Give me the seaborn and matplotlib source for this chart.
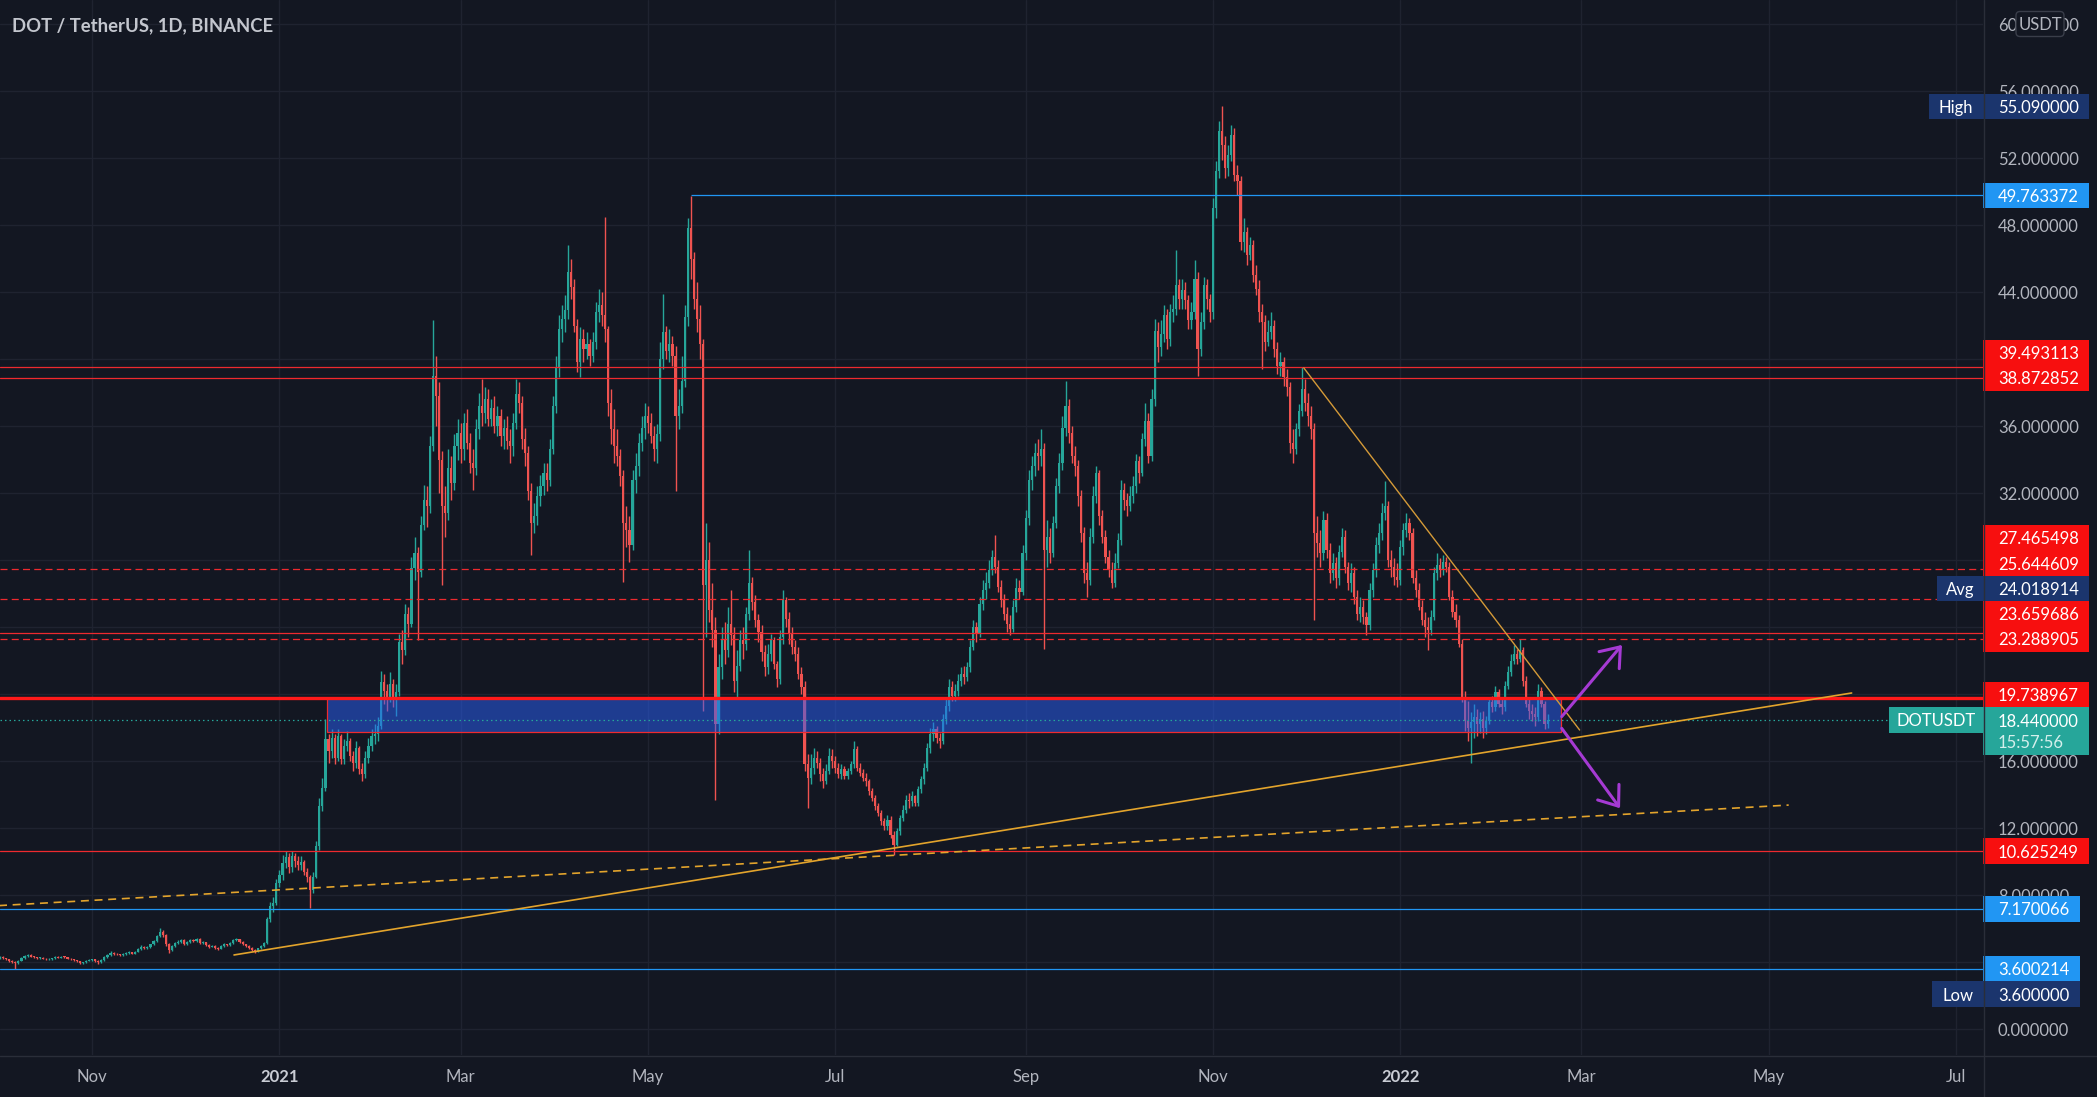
import numpy as np
import pandas as pd
import matplotlib
matplotlib.use("Agg")
import matplotlib.pyplot as plt
import matplotlib.dates as mdates
from matplotlib.patches import Rectangle, FancyArrowPatch, FancyBboxPatch
import seaborn as sns

# ---------------------------------------------------------------- data
title = "DOT / TetherUS, 1D, BINANCE"
first_date = "2020-10-02"
first_open = 4.25

close = [
    # Oct 2020
    4.30,4.22,4.15,4.08,4.00,3.92,4.08,4.25,4.35,4.40, 4.32,4.28,4.22,4.25,4.20,4.15,4.18,4.22,4.30,4.26,
    4.32,4.28,4.20,4.15,4.10,4.05,3.95,4.00,4.08,4.12,
    # Nov 2020
    4.15,4.05,3.98,4.12,4.30,4.42,4.55,4.48,4.45,4.40, 4.46,4.52,4.58,4.50,4.62,4.78,4.92,4.85,4.90,5.05,
    5.25,5.55,5.78,5.62,5.05,4.72,4.98,5.12,5.22,5.30,
    # Dec 2020
    5.08,5.22,5.32,5.26,5.38,5.12,5.18,5.02,4.92,4.96, 4.86,4.80,4.94,5.06,5.00,5.12,5.30,5.36,5.22,5.06,
    4.96,4.84,4.74,4.68,4.82,4.96,5.15,6.55,7.35,7.50, 8.70,
    # Jan 2021
    9.20,9.90,10.25,9.65,10.30,10.05,9.80,9.95,9.40,9.05, 8.30,9.10,10.90,13.30,14.40,17.30,16.60,17.40,16.20,17.50,
    16.10,16.90,17.20,16.30,15.90,16.80,15.50,15.20,16.20,16.90, 17.50,
    # Feb 2021
    17.60,18.10,20.70,20.20,19.80,20.60,19.70,20.10,23.10,22.60, 24.80,24.20,27.50,28.40,27.30,30.10,31.60,31.20,34.80,39.00,
    37.80,34.00,31.20,30.80,33.50,32.60,34.80,35.60,
    # Mar 2021
    34.60,36.20,35.00,33.80,33.50,35.80,37.20,36.80,37.60,36.40, 37.10,36.00,36.60,35.40,35.90,35.10,34.80,36.20,37.90,37.40,
    35.20,34.40,32.10,30.20,30.60,31.80,32.40,33.20,32.80,34.60, 37.20,
    # Apr 2021
    39.50,41.80,42.40,42.90,45.20,44.30,42.00,39.80,41.20,40.60, 40.90,40.20,41.00,42.80,43.20,42.60,41.80,37.40,35.80,34.80,
    34.20,33.00,30.20,29.80,28.90,32.80,33.60,35.00,35.90,36.60,
    # May 2021
    36.20,35.40,34.60,35.50,40.00,41.60,40.50,40.90,40.20,36.60, 37.20,38.70,42.50,47.80,46.00,43.60,42.40,40.90,26.50,28.00,
    25.00,23.80,18.20,21.60,23.20,22.60,24.20,23.50,20.80,21.70, 23.20,
    # Jun 2021
    23.00,24.80,26.60,25.50,24.40,23.70,22.50,21.60,22.40,23.20, 21.80,20.90,23.40,25.60,24.50,23.60,22.80,22.40,21.20,20.40,
    15.80,15.00,15.60,16.20,15.90,15.20,14.80,15.40,16.30,16.00,
    # Jul 2021
    15.60,15.20,15.50,15.10,15.40,15.80,16.70,15.60,15.30,15.00, 14.80,14.20,13.80,13.30,12.90,12.40,12.10,12.50,11.60,11.00,
    11.80,12.60,13.10,13.70,13.60,13.90,13.50,14.30,14.90,15.60, 16.80,
    # Aug 2021
    17.60,17.90,17.40,17.20,18.50,19.30,20.40,19.90,20.20,20.80, 21.20,21.00,21.60,22.80,24.00,23.60,25.40,26.20,26.60,27.40,
    28.20,27.60,26.40,25.60,24.80,24.20,23.90,25.20,26.30,26.10, 28.40,
    # Sep 2021
    30.50,32.80,33.60,34.40,34.20,34.60,28.60,29.40,28.40,30.20, 32.40,33.80,35.90,37.20,35.60,34.20,33.60,31.80,29.60,27.20,
    26.80,29.40,31.80,33.20,30.60,29.40,28.20,27.40,26.60,27.80,
    # Oct 2021
    29.20,32.20,31.60,31.20,31.80,32.40,33.90,33.20,35.20,36.30, 34.20,37.60,41.70,40.70,41.50,42.60,41.20,42.80,43.00,44.40,
    43.60,44.10,43.50,42.30,42.80,44.80,40.60,42.20,44.40,43.60, 42.80,
    # Nov 2021
    49.00,51.20,53.60,52.80,51.40,52.20,53.40,51.00,50.60,47.00, 47.60,46.20,46.80,45.00,44.20,42.80,42.20,41.00,41.60,42.00,
    40.60,39.60,39.80,38.90,38.30,35.00,34.60,35.80,36.90,38.20,
    # Dec 2021
    37.40,36.60,35.80,29.60,29.00,28.40,30.40,28.60,27.20,27.80, 26.90,28.50,29.40,27.60,26.60,27.20,25.80,24.80,25.20,24.60,
    24.10,26.20,27.40,28.90,29.60,30.80,31.20,28.00,27.60,27.00, 26.80,
    # Jan 2022
    28.80,29.80,30.20,29.60,26.90,26.20,25.20,24.40,24.00,23.80, 24.60,27.20,27.70,27.40,27.90,27.60,25.80,24.90,24.40,23.00,
    19.80,18.40,18.00,18.30,18.60,18.20,18.50,18.00,18.40,19.50, 19.20,
    # Feb 2022
    20.10,19.40,19.20,20.50,21.30,22.00,22.40,22.10,22.60,20.80, 19.40,19.00,18.80,18.60,20.20,19.40,18.20,18.44,
]

high = [
    4.38,4.34,4.26,4.19,4.12,4.04,4.12,4.30,4.42,4.48, 4.45,4.36,4.31,4.30,4.28,4.23,4.22,4.26,4.35,4.34,
    4.37,4.35,4.30,4.23,4.18,4.13,4.08,4.03,4.12,4.18,
    4.20,4.18,4.10,4.16,4.36,4.50,4.66,4.60,4.52,4.49, 4.52,4.58,4.66,4.62,4.68,4.84,5.00,4.96,4.96,5.10,
    5.32,5.62,6.02,5.90,5.70,5.12,5.04,5.20,5.30,5.38,
    5.36,5.28,5.40,5.38,5.44,5.42,5.24,5.22,5.08,5.02, 5.00,4.90,4.99,5.12,5.10,5.18,5.36,5.44,5.40,5.26,
    5.10,4.99,4.88,4.78,4.86,5.00,5.22,6.70,7.60,7.90, 8.95,
    9.50,10.40,10.60,10.50,10.60,10.50,10.30,10.30,10.10,9.60, 9.20,9.40,11.20,13.80,15.00,18.50,17.60,17.90,17.60,17.90,
    17.60,17.30,17.80,17.40,16.60,17.20,16.90,15.90,16.60,17.40, 17.90,
    18.20,18.60,21.40,21.20,20.60,21.30,20.90,20.60,23.60,23.80, 25.40,25.20,28.20,29.40,28.80,30.60,32.50,32.40,35.40,42.30,
    40.20,38.60,34.50,32.40,34.60,34.20,35.50,36.40,
    36.20,36.80,37.00,35.60,34.60,36.40,38.00,38.80,38.30,38.20, 37.60,37.80,37.20,37.00,36.40,36.60,35.80,36.80,38.80,38.60,
    37.80,35.90,34.80,32.60,31.40,32.40,33.10,33.80,33.80,35.20, 37.80,
    40.20,42.60,43.20,43.80,46.80,46.00,44.80,42.40,41.90,41.80, 41.60,41.20,41.60,43.40,44.20,44.00,48.50,42.00,38.20,37.00,
    35.80,34.60,33.40,31.20,30.60,33.40,34.40,35.60,36.60,37.40,
    37.20,36.80,36.00,36.10,41.00,43.90,42.00,41.80,41.40,40.80, 38.20,40.20,43.20,48.40,49.76,46.40,44.60,43.20,41.20,30.20,
    29.10,26.60,24.60,22.40,24.00,24.30,25.20,26.20,24.00,22.60, 23.80,
    24.00,25.20,28.60,27.00,25.90,24.80,24.10,22.90,23.00,23.60, 23.40,22.00,23.80,26.20,25.80,24.90,24.00,23.20,22.80,21.60,
    20.80,16.40,16.40,16.80,16.60,16.20,15.60,15.80,16.80,16.70,
    16.30,15.90,15.80,15.70,15.60,16.00,17.20,16.90,15.90,15.50, 15.30,14.90,14.40,14.00,13.50,13.10,12.60,12.80,12.70,11.80,
    12.00,12.80,13.40,14.00,14.10,14.20,14.00,14.50,15.10,15.90, 17.10,
    18.00,18.30,18.10,17.70,18.80,19.70,20.90,20.80,20.60,21.20, 21.60,21.70,21.90,23.20,24.40,24.30,25.80,26.80,27.30,28.00,
    28.60,29.50,28.00,26.80,26.00,25.20,24.70,25.60,26.90,26.80, 28.90,
    31.00,33.40,34.20,35.00,35.20,35.80,35.00,30.40,29.90,30.60, 32.90,34.40,36.60,38.70,37.60,36.00,34.80,34.00,32.20,30.00,
    27.90,29.90,32.40,33.60,33.40,31.00,29.80,28.60,27.90,28.40,
    29.60,32.80,32.60,32.00,32.40,33.00,34.30,34.20,35.60,37.40, 36.80,38.20,42.40,42.20,42.30,43.20,43.00,43.30,43.80,46.50,
    44.80,44.80,44.60,43.80,43.40,45.90,45.20,42.80,44.90,44.80, 43.90,
    49.60,51.80,54.20,55.09,53.30,52.80,54.00,53.80,51.60,50.90, 48.40,47.90,47.30,47.10,45.60,44.70,43.30,42.60,42.30,42.80,
    42.30,41.00,40.40,40.10,39.40,38.60,35.80,36.20,37.30,39.50,
    38.80,38.00,37.20,36.20,30.60,29.80,30.90,30.80,29.00,28.40, 28.20,28.90,29.90,29.80,27.90,27.80,27.60,26.20,25.80,25.60,
    24.90,26.60,27.80,29.40,30.20,31.40,32.70,31.50,28.60,28.10, 27.80,
    29.20,30.20,30.80,30.50,29.90,27.40,26.60,25.60,24.90,24.60, 25.00,27.60,28.40,28.10,28.30,28.20,27.90,26.20,25.40,24.70,
    23.30,20.20,19.60,18.90,19.40,19.10,18.90,19.00,18.70,19.80, 19.90,
    20.50,20.30,19.80,20.80,21.70,22.40,22.90,22.70,23.30,22.80, 21.10,19.80,19.40,19.20,20.60,20.40,19.60,18.80,
]

low = [
    4.20,4.18,4.11,4.03,3.95,3.60,3.88,4.04,4.20,4.30, 4.28,4.24,4.18,4.18,4.15,4.12,4.12,4.14,4.18,4.22,
    4.22,4.24,4.16,4.11,4.06,4.00,3.90,3.88,3.97,4.05,
    4.08,4.00,3.90,3.95,4.08,4.25,4.38,4.44,4.40,4.35, 4.36,4.42,4.48,4.45,4.46,4.58,4.74,4.80,4.80,4.86,
    5.00,5.20,5.48,5.50,4.95,4.55,4.66,4.92,5.06,5.15,
    5.00,5.02,5.16,5.20,5.20,5.06,5.08,4.96,4.86,4.88, 4.80,4.74,4.76,4.90,4.95,4.96,5.08,5.26,5.16,5.00,
    4.90,4.78,4.68,4.55,4.62,4.78,4.92,5.10,6.40,7.00, 7.40,
    8.50,8.90,9.60,9.30,9.40,9.70,9.50,9.50,9.20,8.80, 7.20,8.10,9.00,10.70,13.00,14.20,15.90,16.20,15.80,16.00,
    15.80,15.80,16.60,16.00,15.40,15.60,15.20,14.80,15.00,15.90, 16.60,
    17.00,17.20,17.90,19.40,19.00,19.50,19.20,18.70,19.90,21.80, 22.30,23.40,24.00,26.80,23.20,27.00,29.80,30.00,30.80,34.50,
    36.00,32.00,26.50,29.40,30.40,31.60,32.20,34.00,
    33.80,34.00,34.60,33.20,32.20,33.10,35.20,36.00,36.20,36.00, 36.00,35.60,35.40,34.80,34.60,34.60,33.80,34.20,35.80,36.80,
    34.60,33.60,31.60,28.30,29.60,30.10,31.20,31.90,32.10,32.40, 34.30,
    36.80,38.90,41.00,41.60,42.40,43.60,41.60,39.20,38.90,39.80, 40.00,39.60,39.80,40.60,42.20,42.00,41.00,36.60,34.90,33.80,
    33.60,32.40,26.70,28.80,27.90,28.60,32.00,33.00,34.50,35.20,
    35.60,35.00,33.90,33.80,35.10,39.40,40.00,39.80,39.60,32.10, 35.80,36.80,38.30,42.00,44.80,43.00,41.60,40.00,19.00,23.40,
    24.30,22.80,13.70,17.60,20.90,21.80,22.20,22.90,20.10,19.80, 21.40,
    22.10,22.60,24.40,25.00,24.00,23.10,22.00,21.10,21.20,22.00, 21.50,20.40,20.60,23.00,24.00,23.00,22.40,22.00,20.90,20.00,
    15.40,13.20,14.60,15.20,15.60,14.80,14.40,14.60,15.20,15.60,
    15.30,15.00,14.90,14.90,14.90,15.20,15.60,15.40,15.10,14.80, 14.50,14.00,13.60,13.10,12.70,12.20,11.90,11.90,11.40,10.40,
    10.90,11.60,12.40,12.90,13.20,13.30,13.30,13.30,14.10,14.60, 15.40,
    16.50,17.20,17.10,16.80,17.00,18.20,19.00,19.60,19.60,19.90, 20.50,20.60,20.80,21.30,22.60,23.10,23.40,25.00,25.70,26.30,
    27.10,27.20,26.10,25.20,24.40,23.70,23.50,23.70,24.90,25.70, 25.90,
    28.00,30.10,32.20,33.00,33.40,33.60,22.70,27.60,27.80,28.20, 29.90,32.00,33.40,35.40,35.00,33.80,33.00,31.20,29.10,26.60,
    25.80,26.50,29.00,31.40,30.10,29.00,27.80,27.00,26.30,26.40,
    27.50,28.90,31.00,30.60,30.90,31.40,32.00,32.60,33.00,34.80, 33.80,33.90,37.20,39.80,40.20,41.00,40.60,40.80,42.20,42.60,
    43.00,43.00,43.00,41.80,41.80,42.40,39.00,40.20,41.80,43.00, 42.20,
    42.40,48.40,50.80,51.90,50.80,50.90,51.80,50.60,49.80,46.50, 46.40,45.60,45.90,44.60,43.80,42.20,39.40,40.50,40.80,41.20,
    40.10,39.10,39.00,38.40,37.80,34.40,33.80,34.30,35.40,36.60,
    36.90,36.00,35.20,24.40,28.20,27.60,28.00,28.10,26.60,26.80, 26.30,26.50,28.20,27.20,26.20,26.10,25.40,24.40,24.30,24.20,
    23.50,23.80,25.80,27.00,28.40,29.20,30.40,27.60,27.00,26.50, 26.40,
    26.50,28.30,29.40,29.20,26.60,25.80,25.00,24.10,23.40,22.60, 23.50,24.40,26.80,27.00,27.10,27.30,25.60,24.60,24.00,22.80,
    19.50,17.80,17.20,15.90,17.40,17.50,17.70,17.40,17.60,18.20, 18.90,
    19.00,19.20,18.80,19.00,20.30,21.10,21.80,21.80,21.90,20.50, 19.20,18.50,18.40,18.10,18.40,19.20,17.90,18.00,
]

# horizontal levels drawn on the chart
red_solid_levels = [39.493113, 38.872852, 23.659686, 10.625249]
red_dashed_levels = [27.465498, 25.644609, 23.288905]
key_level = 19.738967
blue_levels = [7.170066, 3.600214]
peak_level = 49.763372
peak_level_start = "2021-05-15 00:00"
high_value = 55.09
low_value = 3.60
avg_value = 24.018914
last_price = 18.44
countdown = "15:57:56"
symbol = "DOTUSDT"
currency = "USDT"

zone_dates = ["2021-01-16 10:00", "2022-02-22 12:00"]
zone_prices = [17.71, 19.738967]

rising_line_dates = ["2020-12-17 05:00", "2022-05-28 00:00"]
rising_line_prices = [4.42, 20.06]
dashed_line_dates = ["2020-09-30 00:00", "2022-05-07 12:00"]
dashed_line_prices = [7.35, 13.37]
falling_line_dates = ["2021-11-30 14:00", "2022-02-28 10:00"]
falling_line_prices = [39.47, 17.85]

arrow_up_dates = ["2022-02-22 14:00", "2022-03-14 05:00"]
arrow_up_prices = [18.65, 22.93]
arrow_down_dates = ["2022-02-22 14:00", "2022-03-13 14:00"]
arrow_down_prices = [17.95, 13.18]

x_tick_dates = ["2020-11-01", "2021-01-01", "2021-03-01", "2021-05-01", "2021-07-01", "2021-09-01",
                "2021-11-01", "2022-01-01", "2022-03-01", "2022-05-01", "2022-07-01"]
x_tick_labels = ["Nov", "2021", "Mar", "May", "Jul", "Sep", "Nov", "2022", "Mar", "May", "Jul"]
y_ticks = list(range(0, 61, 4))


def dnum(values):
    return mdates.date2num(pd.to_datetime(list(values), format="ISO8601").values)


# ---------------------------------------------------------------- style
BG = "#131722"
GRID = "#1f2330"
TXT = "#b2b5be"
UP, DOWN = "#26a69a", "#ef5350"
LINE_RED = "#ee2a2f"
LABEL_RED = "#f70f0f"
BLUE = "#2196f3"
NAVY = "#1b356d"
ORANGE = "#e3a42c"
ORANGE2 = "#d49a38"
PURPLE = "#a53ad3"

sns.set_theme(style="dark", rc={"axes.facecolor": BG, "figure.facecolor": BG,
                                "grid.color": GRID, "axes.edgecolor": BG})
plt.rcParams["font.family"] = ["Lato", "DejaVu Sans"]

W, H = 2097, 1097
PLOT_R, PLOT_B = 1983, 1055
YMIN, YMAX = -1.552, 61.433
DAY_PX = 3.0707
LH = 25.3
FS = 12


def py(p):
    return (YMAX - p) / (YMAX - YMIN) * PLOT_B


fig = plt.figure(figsize=(W / 100, H / 100), dpi=100, facecolor=BG)
ax = fig.add_axes([0, 1 - PLOT_B / H, PLOT_R / W, PLOT_B / H])
ax.set_facecolor(BG)

dates = pd.date_range(first_date, periods=len(close), freq="D")
x = mdates.date2num(dates.values)
c = np.array(close)
o = np.r_[first_open, c[:-1]]
hi = np.maximum.reduce([np.array(high), o, c])
lo = np.minimum.reduce([np.array(low), o, c])
cols = np.where(c >= o, UP, DOWN)

x0 = x[0]
x_right = x0 + PLOT_R / DAY_PX
ax.set_xlim(x0, x_right)
ax.set_ylim(YMIN, YMAX)

# ---------------------------------------------------------------- label positions on the price scale
yc_last = py(last_price)
top_last = yc_last - 13.2
upper = [(key_level, LABEL_RED, None, None)]
upper += [(lv, LABEL_RED, None, None) for lv in red_dashed_levels + red_solid_levels if lv > last_price]
upper += [(avg_value, NAVY, "Avg", 1937), (peak_level, BLUE, None, None), (high_value, NAVY, "High", 1929)]
upper.sort(key=lambda r: r[0])
placed = []          # (y_center, text, color, prefix, prefix_left, right)
prev = top_last + LH / 2
for p, col, pre, left in upper:
    yc = min(py(p), prev - LH)
    placed.append((yc, f"{p:.6f}", col, pre, left, 2089))
    prev = yc
for lv in red_solid_levels:
    if lv < last_price:
        placed.append((py(lv), f"{lv:.6f}", LABEL_RED, None, None, 2089))
for lv in blue_levels:
    placed.append((py(lv), f"{lv:.6f}", BLUE, None, None, 2080))
placed.append((py(low_value) + LH, f"{low_value:.6f}", NAVY, "Low", 1932, 2080))
box_centers = [p[0] for p in placed] + [yc_last, yc_last + 21]

# axis ticks: tick labels entirely hidden behind a coloured label box are left blank
ytl = []
for t in y_ticks:
    hidden = any(abs(py(t) - bc) < 9 for bc in box_centers)
    ytl.append("" if hidden else f"{t:.6f}")

ax.set_xticks(dnum(x_tick_dates))
ax.set_xticklabels(x_tick_labels)
ax.yaxis.tick_right()
ax.set_yticks(y_ticks)
ax.set_yticklabels(ytl)
ax.grid(True, color=GRID, lw=1.0, zorder=0)
ax.tick_params(axis="x", length=0, pad=10, labelsize=FS, labelcolor=TXT)
ax.tick_params(axis="y", length=0, pad=10.8, labelsize=FS, labelcolor=TXT)
for t in ax.get_xticklabels():
    if t.get_text().startswith("20"):
        t.set_fontweight("bold")
        t.set_color("#c9ccd4")
for s in ax.spines.values():
    s.set_visible(False)

# candles
ax.vlines(x, lo, hi, colors=cols, lw=1.0, zorder=3)
ax.bar(x, np.maximum(np.abs(c - o), 0.05), bottom=np.minimum(o, c), width=0.7,
       color=cols, linewidth=0, zorder=3)

# zone rectangle
zx = dnum(zone_dates)
ax.add_patch(Rectangle((zx[0], zone_prices[0]), zx[1] - zx[0], zone_prices[1] - zone_prices[0],
                       facecolor="#2962ff", alpha=0.5, edgecolor="none", zorder=4))
ax.add_patch(Rectangle((zx[0], zone_prices[0]), zx[1] - zx[0], zone_prices[1] - zone_prices[0],
                       fill=False, edgecolor=LINE_RED, lw=0.9, zorder=4.5))

# levels
for lv in red_solid_levels:
    ax.axhline(lv, color=LINE_RED, lw=0.9, zorder=5)
for lv in red_dashed_levels:
    ax.axhline(lv, color=LINE_RED, lw=0.9, ls=(0, (5.6, 3.4)), zorder=5)
for lv in blue_levels:
    ax.axhline(lv, color=BLUE, lw=0.9, zorder=5)
ax.axhline(key_level, color="#ff1a1a", lw=2.4, zorder=5)
ax.hlines(peak_level, dnum([peak_level_start])[0], x_right, color=BLUE, lw=0.9, zorder=5)
ax.axhline(last_price, color=UP, lw=0.9, ls=(0, (1.2, 2.4)), zorder=5)

# trend lines
sns.lineplot(x=dnum(rising_line_dates), y=rising_line_prices, ax=ax, color=ORANGE, lw=1.2, zorder=5)
sns.lineplot(x=dnum(dashed_line_dates), y=dashed_line_prices, ax=ax, color=ORANGE, lw=1.2,
             linestyle=(0, (4.8, 3.4)), zorder=5)
sns.lineplot(x=dnum(falling_line_dates), y=falling_line_prices, ax=ax, color=ORANGE2, lw=1.0, zorder=5)

# arrows
for ds, ps in [(arrow_up_dates, arrow_up_prices), (arrow_down_dates, arrow_down_prices)]:
    xa = dnum(ds)
    ax.add_patch(FancyArrowPatch((xa[0], ps[0]), (xa[1], ps[1]),
                                 arrowstyle="->,head_length=1.25,head_width=0.95", mutation_scale=10,
                                 color=PURPLE, lw=2.2, shrinkA=0, shrinkB=0, zorder=6))

# ---------------------------------------------------------------- price scale labels (overlay in pixels)
ov = fig.add_axes([0, 0, 1, 1], zorder=10)
ov.set_xlim(0, W)
ov.set_ylim(H, 0)
ov.axis("off")


def value_box(yc, text, color, right=2089, tcolor="white"):
    ov.add_patch(Rectangle((PLOT_R, yc - LH / 2), right - PLOT_R, LH, facecolor=color, edgecolor="none"))
    ov.text(1998, yc, text, color=tcolor, fontsize=FS, va="center_baseline", ha="left")


def prefix_box(yc, text, color, left):
    ov.add_patch(Rectangle((left, yc - LH / 2), PLOT_R - left, LH, facecolor=color, edgecolor="none"))
    ov.text((left + PLOT_R) / 2, yc, text, color="white", fontsize=FS, va="center_baseline", ha="center")


# current price label
ov.add_patch(Rectangle((PLOT_R, top_last), 2089 - PLOT_R, 48, facecolor=UP, edgecolor="none"))
ov.text(1998, yc_last, f"{last_price:.6f}", color="white", fontsize=FS, va="center_baseline")
ov.text(1998, yc_last + 21, countdown, color="#d5efec", fontsize=FS, va="center_baseline")
ov.add_patch(Rectangle((1889, top_last), PLOT_R - 1889, 26, facecolor=UP, edgecolor="none"))
ov.text((1889 + PLOT_R) / 2, top_last + 13, symbol, color="white", fontsize=FS, va="center_baseline", ha="center")

for yc, txt, col, pre, left, right in placed:
    value_box(yc, txt, col, right=right)
    if pre:
        prefix_box(yc, pre, col, left)

# currency box
ov.add_patch(FancyBboxPatch((2016, 11.5), 48, 25, boxstyle="round,pad=0,rounding_size=4",
                            facecolor=BG, edgecolor="#3a3e4a", lw=1))
ov.text(2040, 24, currency, color=TXT, fontsize=FS, ha="center", va="center_baseline")

# separators
ov.plot([PLOT_R + 0.5, PLOT_R + 0.5], [0, H], color="#2a2e39", lw=1)
ov.plot([0, W], [PLOT_B + 0.5, PLOT_B + 0.5], color="#2a2e39", lw=1)

# title
ov.text(12, 24, title, color="#c3c6ce", fontsize=13.3, fontweight="bold", ha="left", va="center_baseline")

fig.savefig("out.png", dpi=100, facecolor=BG)
